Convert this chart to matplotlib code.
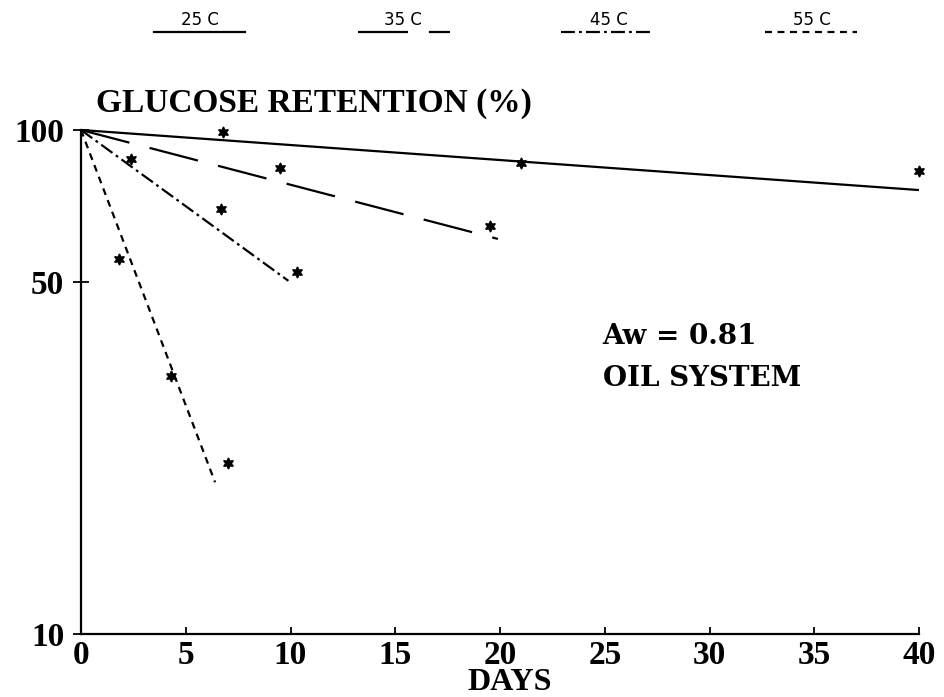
import matplotlib
matplotlib.use("Agg")
import matplotlib.pyplot as plt
from matplotlib.lines import Line2D

# ---- data ----
temps = ["25 C", "35 C", "45 C", "55 C"]

days_25 = [6.8, 21.0, 40.0]
ret_25 = [99.1, 86.0, 82.9]
days_35 = [2.4, 9.5, 19.5]
ret_35 = [87.6, 84.1, 64.5]
days_45 = [6.7, 10.3]
ret_45 = [69.7, 52.3]
days_55 = [1.8, 4.3, 7.0]
ret_55 = [55.5, 32.5, 21.8]

fit_days_25 = [0, 40.0]
fit_ret_25 = [100, 76.0]
fit_days_35 = [0, 19.9]
fit_ret_35 = [100, 60.8]
fit_days_45 = [0, 9.9]
fit_ret_45 = [100, 50.2]
fit_days_55 = [0, 6.4]
fit_ret_55 = [100, 20.0]

x_ticks = [0, 5, 10, 15, 20, 25, 30, 35, 40]
y_ticks = [10, 50, 100]

# ---- styling ----
plt.rcParams["lines.scale_dashes"] = False
styles = [
    "-",
    (0, (36, 15)),
    (0, (10, 3, 2, 3)),
    (0, (5, 4)),
]
LW = 1.6
tick_font = dict(family="Liberation Serif", weight="bold", size=24)

fig = plt.figure(figsize=(9.45, 6.97), dpi=100)
ax = fig.add_axes([81 / 945, 63 / 697, 838 / 945, 504 / 697])

series_pts = [(days_25, ret_25), (days_35, ret_35), (days_45, ret_45), (days_55, ret_55)]
series_fit = [(fit_days_25, fit_ret_25), (fit_days_35, fit_ret_35),
              (fit_days_45, fit_ret_45), (fit_days_55, fit_ret_55)]

for (fx, fy), ls in zip(series_fit, styles):
    ax.plot(fx, fy, color="black", lw=LW, linestyle=ls, solid_capstyle="butt",
            dash_capstyle="butt", clip_on=False)
for px, py in series_pts:
    ax.plot(px, py, linestyle="none", marker=(6, 1, 0), ms=8, color="black",
            clip_on=False)

ax.set_yscale("log")
ax.set_xlim(0, 40)
ax.set_ylim(10, 100)
ax.set_xticks(x_ticks)
ax.set_xticklabels([str(t) for t in x_ticks])
ax.set_yticks(y_ticks)
ax.set_yticklabels([str(t) for t in y_ticks])
ax.yaxis.set_minor_locator(matplotlib.ticker.NullLocator())

for s in ["top", "right"]:
    ax.spines[s].set_visible(False)
for s in ["left", "bottom"]:
    ax.spines[s].set_linewidth(1.6)

ax.tick_params(axis="x", direction="in", length=5, width=1.3, pad=4)
ax.tick_params(axis="y", direction="inout", length=12, width=1.3, pad=6)
for lab in ax.get_xticklabels() + ax.get_yticklabels():
    lab.set_fontfamily(tick_font["family"])
    lab.set_fontweight(tick_font["weight"])
    lab.set_fontsize(tick_font["size"])

ax.set_xlabel("DAYS", fontfamily="Liberation Serif", fontweight="bold", fontsize=23)
ax.xaxis.set_label_coords(0.512, -0.068)
ax.xaxis.label.set_va("top")

fig.text(96 / 945, (697 - 112) / 697, "GLUCOSE RETENTION (%)",
         fontfamily="Liberation Serif", fontweight="bold", fontsize=24,
         va="baseline", ha="left")

fig.text(602 / 945, (697 - 344) / 697, "Aw = 0.81",
         fontfamily="DejaVu Serif", fontweight="bold", fontsize=20,
         va="baseline", ha="left")
fig.text(603 / 945, (697 - 386) / 697, "OIL SYSTEM",
         fontfamily="DejaVu Serif", fontweight="bold", fontsize=20,
         va="baseline", ha="left")

# legend drawn across the top
leg_centers = [200, 403, 609, 812]
leg_spans = [(154, 245), (358, 450), (561, 653), (765, 857)]
for name, cx, (x0, x1), ls in zip(temps, leg_centers, leg_spans, styles):
    fig.text(cx / 945, (697 - 25) / 697, name, fontfamily="DejaVu Sans",
             fontsize=12, ha="center", va="baseline")
    fig.add_artist(Line2D([x0 / 945, x1 / 945], [(697 - 32) / 697] * 2,
                          transform=fig.transFigure, color="black", lw=LW,
                          linestyle=ls, dash_capstyle="butt"))

fig.savefig("out.png", dpi=100)
